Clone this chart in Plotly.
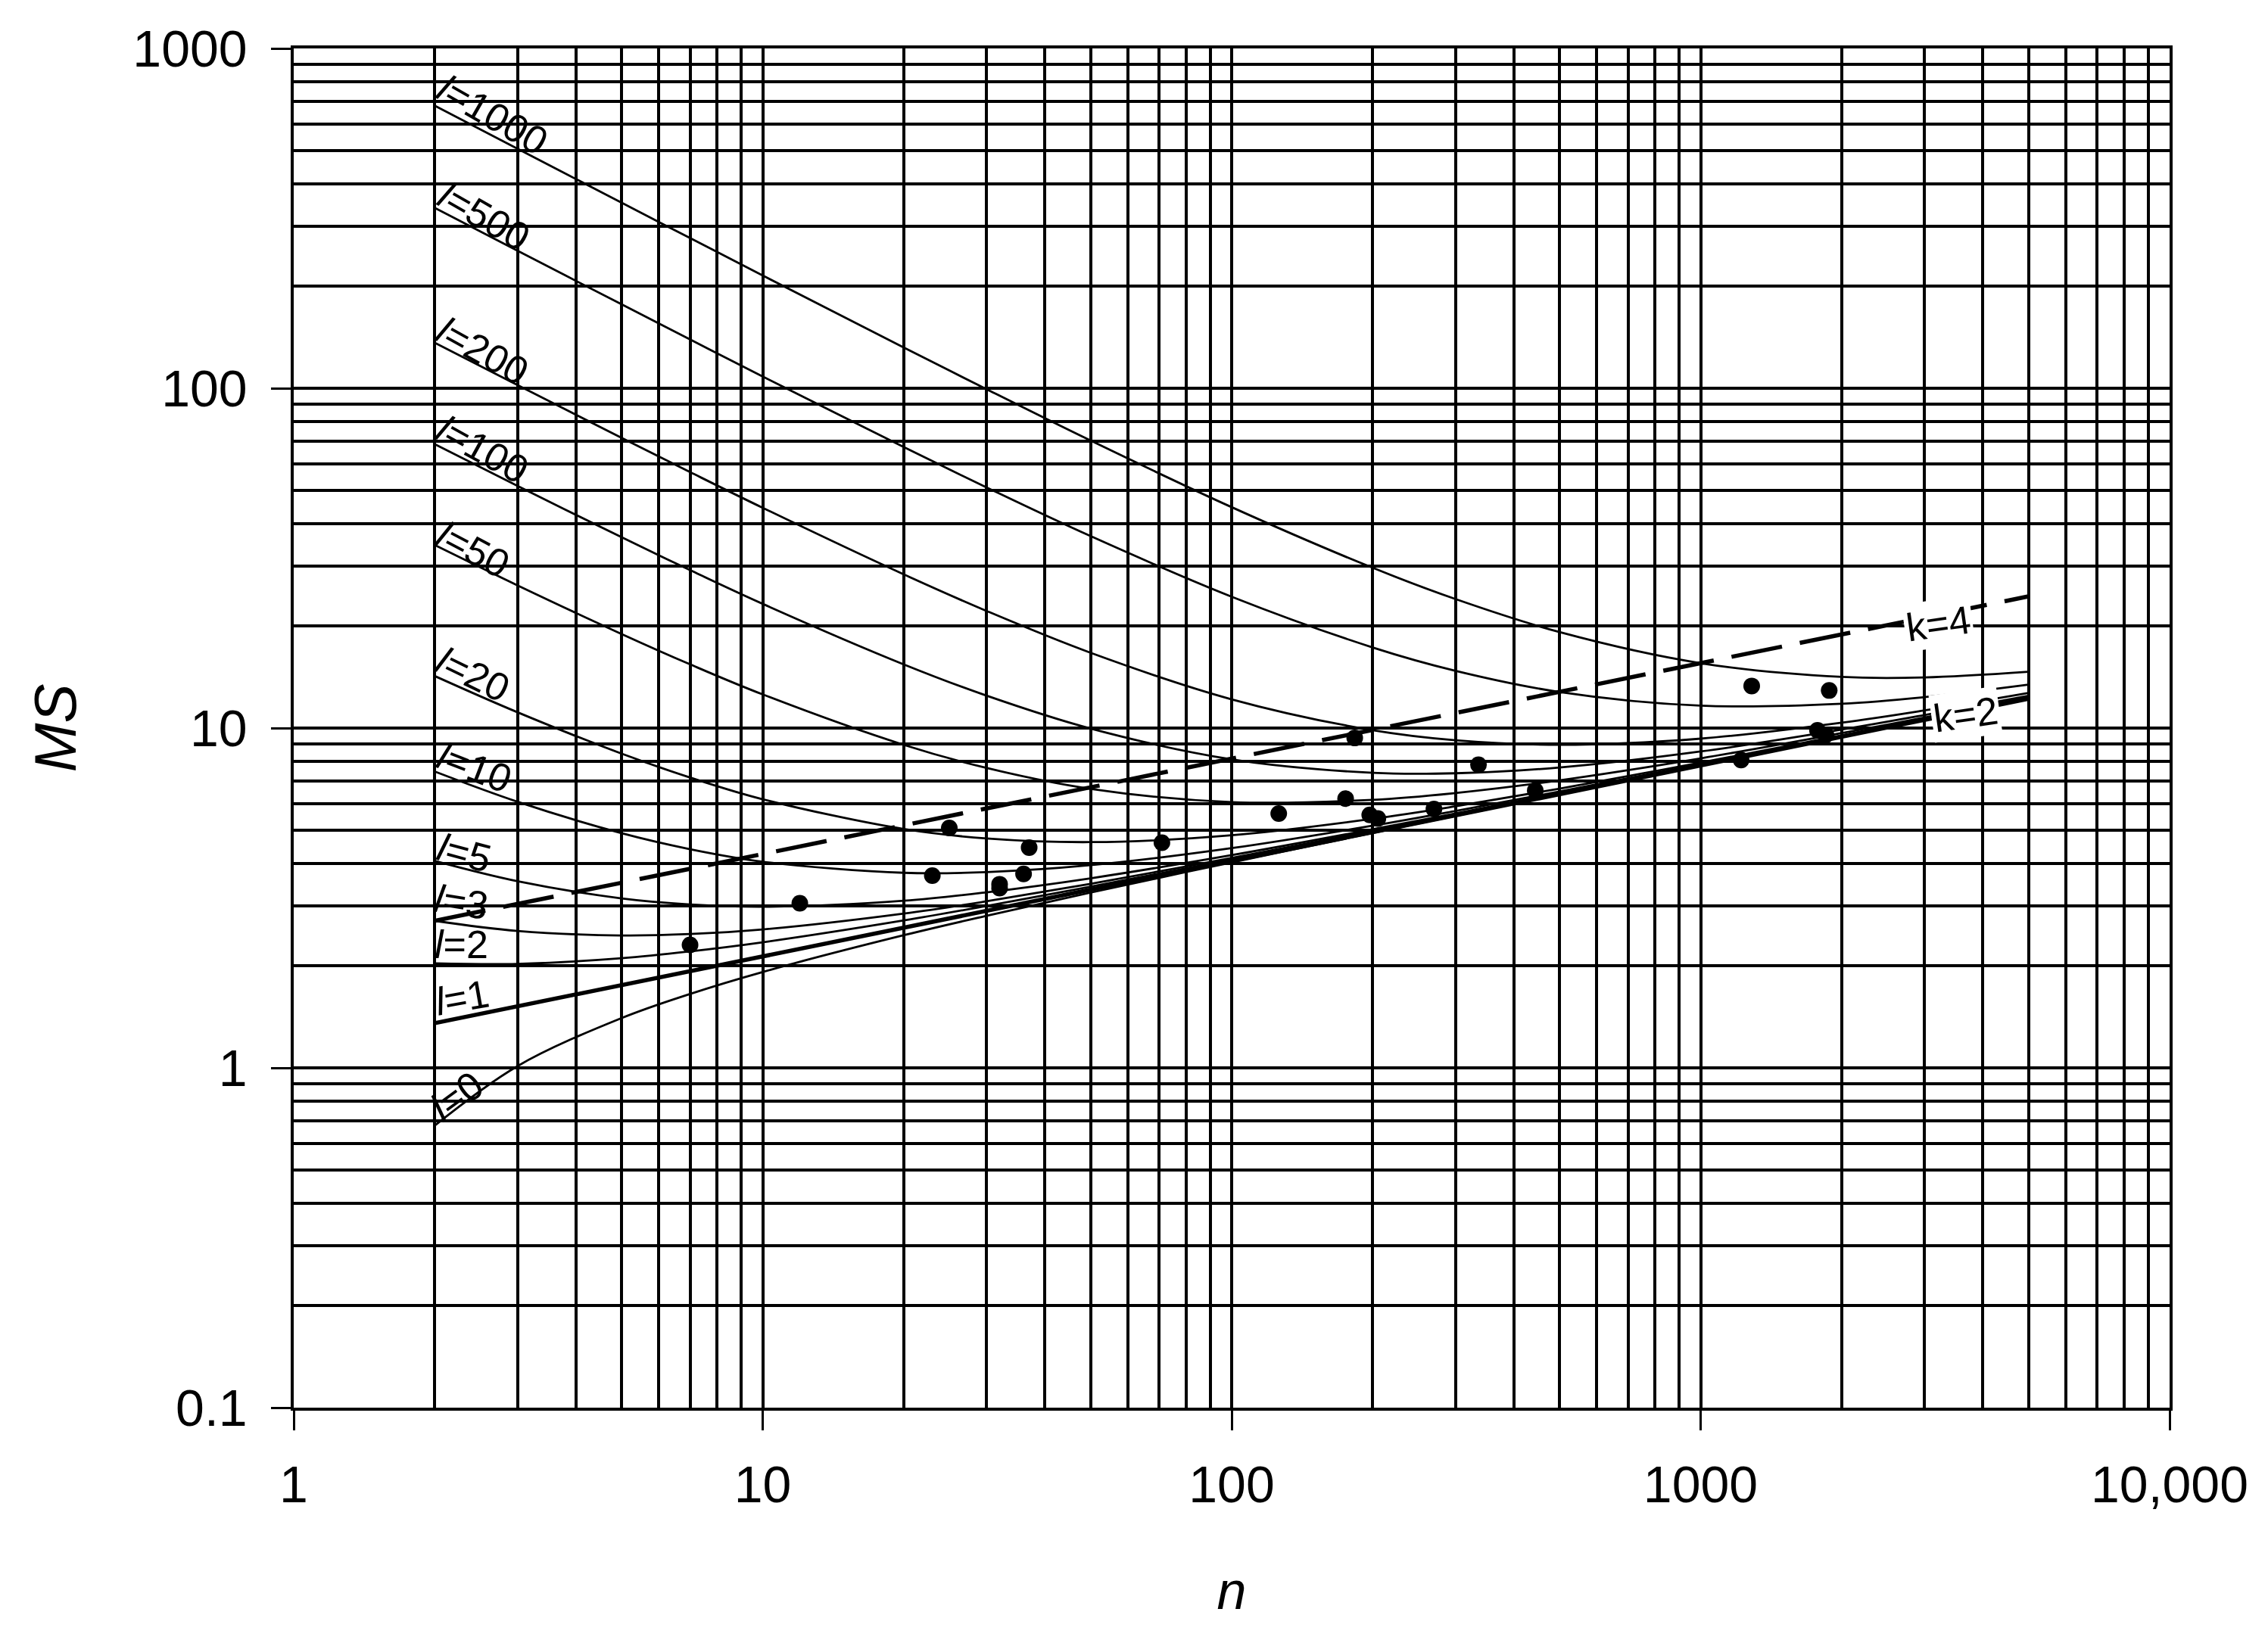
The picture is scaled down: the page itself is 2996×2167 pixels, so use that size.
import math
import plotly.graph_objects as go

# ---------------- data ----------------
N = [2, 3, 5, 7, 10, 20, 30, 50, 100, 200, 300, 500, 1000, 2000, 3000, 5000]

L_NAMES = ["0", "1", "2", "3", "5", "10", "20", "50", "100", "200", "500", "1000"]
MS_l0 = [0.677, 1.012, 1.401, 1.650, 1.915, 2.457, 2.802, 3.278, 4.024, 4.914, 5.516, 6.377, 7.755, 9.428, 10.57, 12.20]
MS_l1 = [1.354, 1.517, 1.752, 1.925, 2.128, 2.586, 2.898, 3.345, 4.065, 4.939, 5.535, 6.389, 7.763, 9.433, 10.57, 12.20]
MS_l2 = [2.031, 2.023, 2.102, 2.201, 2.341, 2.715, 2.995, 3.412, 4.105, 4.964, 5.553, 6.402, 7.771, 9.437, 10.57, 12.20]
MS_l3 = [2.708, 2.529, 2.452, 2.476, 2.554, 2.845, 3.091, 3.479, 4.146, 4.988, 5.572, 6.415, 7.779, 9.442, 10.58, 12.21]
MS_l5 = [4.062, 3.541, 3.153, 3.026, 2.979, 3.103, 3.285, 3.613, 4.227, 5.038, 5.609, 6.440, 7.794, 9.451, 10.58, 12.21]
MS_l10 = [7.447, 6.070, 4.905, 4.401, 4.044, 3.750, 3.768, 3.948, 4.431, 5.161, 5.701, 6.504, 7.833, 9.475, 10.60, 12.22]
MS_l20 = [14.22, 11.13, 8.408, 7.152, 6.172, 5.043, 4.734, 4.617, 4.837, 5.408, 5.885, 6.632, 7.911, 9.522, 10.64, 12.25]
MS_l50 = [34.53, 26.30, 18.92, 15.40, 12.56, 8.922, 7.632, 6.624, 6.056, 6.149, 6.439, 7.016, 8.143, 9.664, 10.74, 12.32]
MS_l100 = [68.38, 51.59, 36.44, 29.16, 23.20, 15.39, 12.46, 9.969, 8.089, 7.384, 7.361, 7.654, 8.532, 9.899, 10.92, 12.44]
MS_l200 = [136.1, 102.2, 71.47, 56.66, 44.48, 28.32, 22.12, 16.66, 12.15, 9.853, 9.206, 8.932, 9.308, 10.37, 11.27, 12.69]
MS_l500 = [339.2, 253.9, 176.6, 139.2, 108.3, 67.11, 51.10, 36.73, 24.35, 17.26, 14.74, 12.77, 11.64, 11.79, 12.33, 13.42]
MS_l1000 = [677.7, 506.8, 351.7, 276.7, 214.7, 131.8, 99.40, 70.18, 44.67, 29.61, 23.97, 19.16, 15.52, 14.14, 14.09, 14.64]
CURVES = [MS_l0, MS_l1, MS_l2, MS_l3, MS_l5, MS_l10, MS_l20, MS_l50, MS_l100, MS_l200, MS_l500, MS_l1000]

K_N = [2, 5000]
K2_MS = [1.354, 12.20]
K4_MS = [2.71, 24.4]

DOTS_N = [7, 12, 23, 25, 32, 32, 36, 37, 71, 126, 175, 183, 197, 205, 270, 336, 444, 1220, 1285, 1775, 1850, 1880]
DOTS_MS = [2.30, 3.05, 3.68, 5.08, 3.47, 3.38, 3.72, 4.45, 4.60, 5.60, 6.20, 9.35, 5.55, 5.42, 5.78, 7.80, 6.55, 8.05, 13.3, 9.85, 9.55, 12.9]

X_TICKS = [1, 10, 100, 1000, 10000]
X_TICKTEXT = ["1", "10", "100", "1000", "10,000"]
Y_TICKS = [0.1, 1, 10, 100, 1000]
Y_TICKTEXT = ["0.1", "1", "10", "100", "1000"]

# ---------------- label placement (layout) ----------------
# (n, MS, angle) for each curve label, same order as L_NAMES
LABEL_POS = [(2.23, 0.826, -36), (2.29, 1.61, -10), (2.28, 2.31, 0), (2.28, 3.08, 9),
             (2.31, 4.30, 15), (2.43, 7.67, 21), (2.41, 14.4, 26), (2.41, 33.5, 28),
             (2.53, 65.9, 29), (2.53, 128.5, 29), (2.55, 320, 30), (2.66, 637, 30)]
K4_LABEL = (3214, 20.3, -8)
K2_LABEL = (3678, 10.95, -8)

FONT = "Liberation Sans, Arial, sans-serif"

fig = go.Figure()

# k lines
fig.add_trace(go.Scatter(x=K_N, y=K4_MS, mode="lines",
                         line=dict(color="black", width=5.5, dash="68px,24px"),
                         showlegend=False, hoverinfo="skip"))
fig.add_trace(go.Scatter(x=K_N, y=K2_MS, mode="lines",
                         line=dict(color="black", width=5.5),
                         showlegend=False, hoverinfo="skip"))

for name, ys in zip(L_NAMES, CURVES):
    fig.add_trace(go.Scatter(x=N, y=ys, mode="lines", name="l=" + name,
                             line=dict(color="black", width=2.8, shape="spline", smoothing=1.0),
                             showlegend=False))

fig.add_trace(go.Scatter(x=DOTS_N, y=DOTS_MS, mode="markers",
                         marker=dict(color="black", size=22),
                         showlegend=False))

ann = []
for name, (xn, yv, ang) in zip(L_NAMES, LABEL_POS):
    ann.append(dict(x=math.log10(xn), y=math.log10(yv), xref="x", yref="y",
                    text="<i>l</i>=" + name, showarrow=False, textangle=ang,
                    xanchor="center", yanchor="middle",
                    font=dict(family=FONT, size=52, color="black")))
for (xn, yv, ang), txt in [(K4_LABEL, "k=4"), (K2_LABEL, "k=2")]:
    ann.append(dict(x=math.log10(xn), y=math.log10(yv), xref="x", yref="y",
                    text=txt, showarrow=False, textangle=ang,
                    xanchor="center", yanchor="middle", bgcolor="white", borderpad=2,
                    font=dict(family=FONT, size=52, color="black")))

minor_x = [d * 10 ** e for e in range(0, 4) for d in range(2, 10)]
minor_y = [d * 10 ** e for e in range(-1, 3) for d in range(2, 10)]

fig.update_layout(
    width=2996, height=2167,
    margin=dict(l=388, r=130, t=64, b=307, autoexpand=False),
    paper_bgcolor="white", plot_bgcolor="white",
    font=dict(family=FONT, size=68, color="black"),
    annotations=ann,
    xaxis=dict(type="log", range=[0, 4], tickmode="array", tickvals=X_TICKS, ticktext=X_TICKTEXT,
               ticks="outside", ticklen=26, tickwidth=2.5, tickcolor="black",
               ticklabelstandoff=14,
               showgrid=True, gridcolor="black", gridwidth=3.5,
               minor=dict(tickmode="array", tickvals=minor_x, showgrid=True,
                          gridcolor="black", gridwidth=3.5, ticks=""),
               showline=True, linecolor="black", linewidth=3.5, mirror=True,
               tickfont=dict(family=FONT, size=68, color="black"),
               title=dict(text="<i>n</i>", font=dict(family=FONT, size=70, color="black"), standoff=80)),
    yaxis=dict(type="log", range=[-1, 3], tickmode="array", tickvals=Y_TICKS, ticktext=Y_TICKTEXT,
               ticks="outside", ticklen=26, tickwidth=2.5, tickcolor="black",
               ticklabelstandoff=18,
               showgrid=True, gridcolor="black", gridwidth=3.5,
               minor=dict(tickmode="array", tickvals=minor_y, showgrid=True,
                          gridcolor="black", gridwidth=3.5, ticks=""),
               showline=True, linecolor="black", linewidth=3.5, mirror=True,
               tickfont=dict(family=FONT, size=68, color="black"),
               title=dict(text="<i>MS</i>", font=dict(family=FONT, size=78, color="black"), standoff=50)),
)

fig.write_html("out.html", config={"displayModeBar": False},
               post_script="document.body.style.margin='0';document.body.style.overflow='hidden';")
